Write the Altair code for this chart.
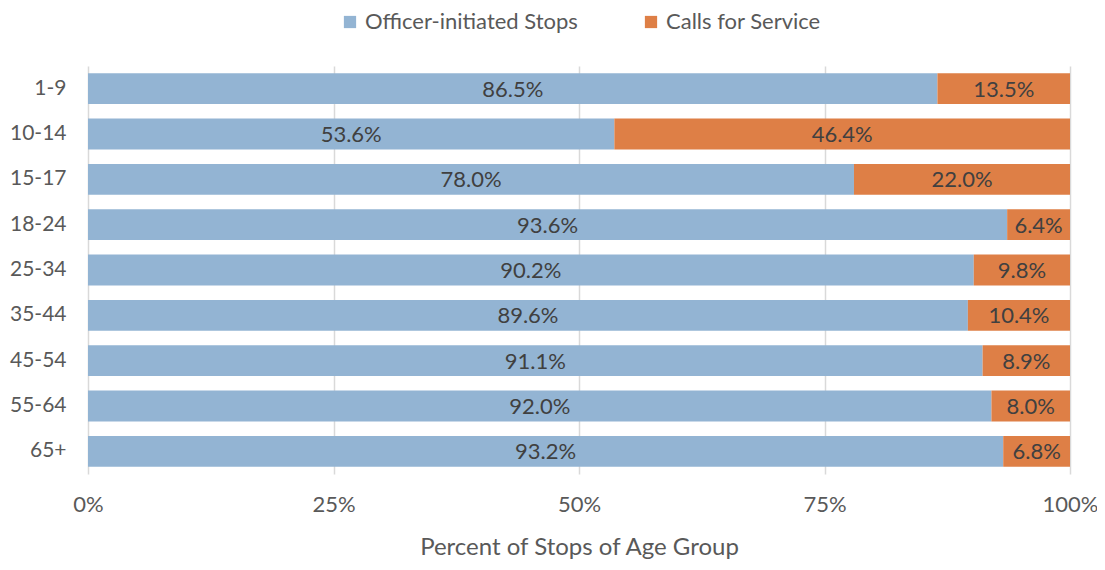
import altair as alt
import pandas as pd

ages = ["1-9", "10-14", "15-17", "18-24", "25-34", "35-44", "45-54", "55-64", "65+"]
officer = [86.5, 53.6, 78.0, 93.6, 90.2, 89.6, 91.1, 92.0, 93.2]
calls = [13.5, 46.4, 22.0, 6.4, 9.8, 10.4, 8.9, 8.0, 6.8]
series = ["Officer-initiated Stops", "Calls for Service"]
colors = ["#93B4D3", "#DE7F46"]

rows = []
for a, o, c in zip(ages, officer, calls):
    rows.append({"age": a, "series": series[0], "value": o, "ord": 0})
    rows.append({"age": a, "series": series[1], "value": c, "ord": 1})
df = pd.DataFrame(rows)
df["label"] = df["value"].map(lambda v: f"{v:.1f}%")

FONT = "Lato"
GREY = "#595959"

bars = alt.Chart(df).mark_bar().encode(
    y=alt.Y("age:N", sort=ages, title=None,
            scale=alt.Scale(paddingInner=0.32, paddingOuter=0.16),
            axis=alt.Axis(domain=False, ticks=False, labelPadding=22,
                          labelFontSize=21, labelColor=GREY, labelFont=FONT)),
    x=alt.X("value:Q", stack="zero", title="Percent of Stops of Age Group",
            scale=alt.Scale(domain=[0, 100], nice=False),
            axis=alt.Axis(values=[0, 25, 50, 75, 100],
                          labelExpr="datum.value + '%'",
                          domain=False, ticks=False, grid=True,
                          gridColor="#D9D9D9", gridWidth=1.5,
                          labelFlush=False,
                          labelPadding=20, labelFontSize=22, labelColor=GREY,
                          labelFont=FONT, titleFont=FONT, titleFontSize=24,
                          titleFontWeight="normal", titleColor=GREY,
                          titlePadding=20)),
    color=alt.Color("series:N", sort=series,
                    scale=alt.Scale(domain=series, range=colors),
                    legend=alt.Legend(title=None, orient="none", direction="horizontal",
                                      legendX=251, legendY=-55,
                                      symbolType="square", symbolSize=150,
                                      symbolStrokeWidth=0, labelLimit=0,
                                      labelFontSize=22, labelColor=GREY, labelFont=FONT,
                                      columnPadding=62, labelOffset=4)),
    order=alt.Order("ord:Q"),
)

text = alt.Chart(df).transform_stack(
    stack="value", groupby=["age"], as_=["v0", "v1"], sort=[alt.SortField("ord")]
).transform_calculate(
    mid="(datum.v0 + datum.v1) / 2"
).mark_text(fontSize=22, color="#404040", font=FONT, dy=1).encode(
    y=alt.Y("age:N", sort=ages),
    x=alt.X("mid:Q"),
    text="label:N",
)

chart = (bars + text).properties(
    width=982, height=408,
    autosize=alt.AutoSizeParams(type="none"),
    padding={"left": 80, "top": 58, "right": 27, "bottom": 88},
).configure_view(stroke=None)

chart.save("out.html", embed_options={"renderer": "svg", "actions": False})
